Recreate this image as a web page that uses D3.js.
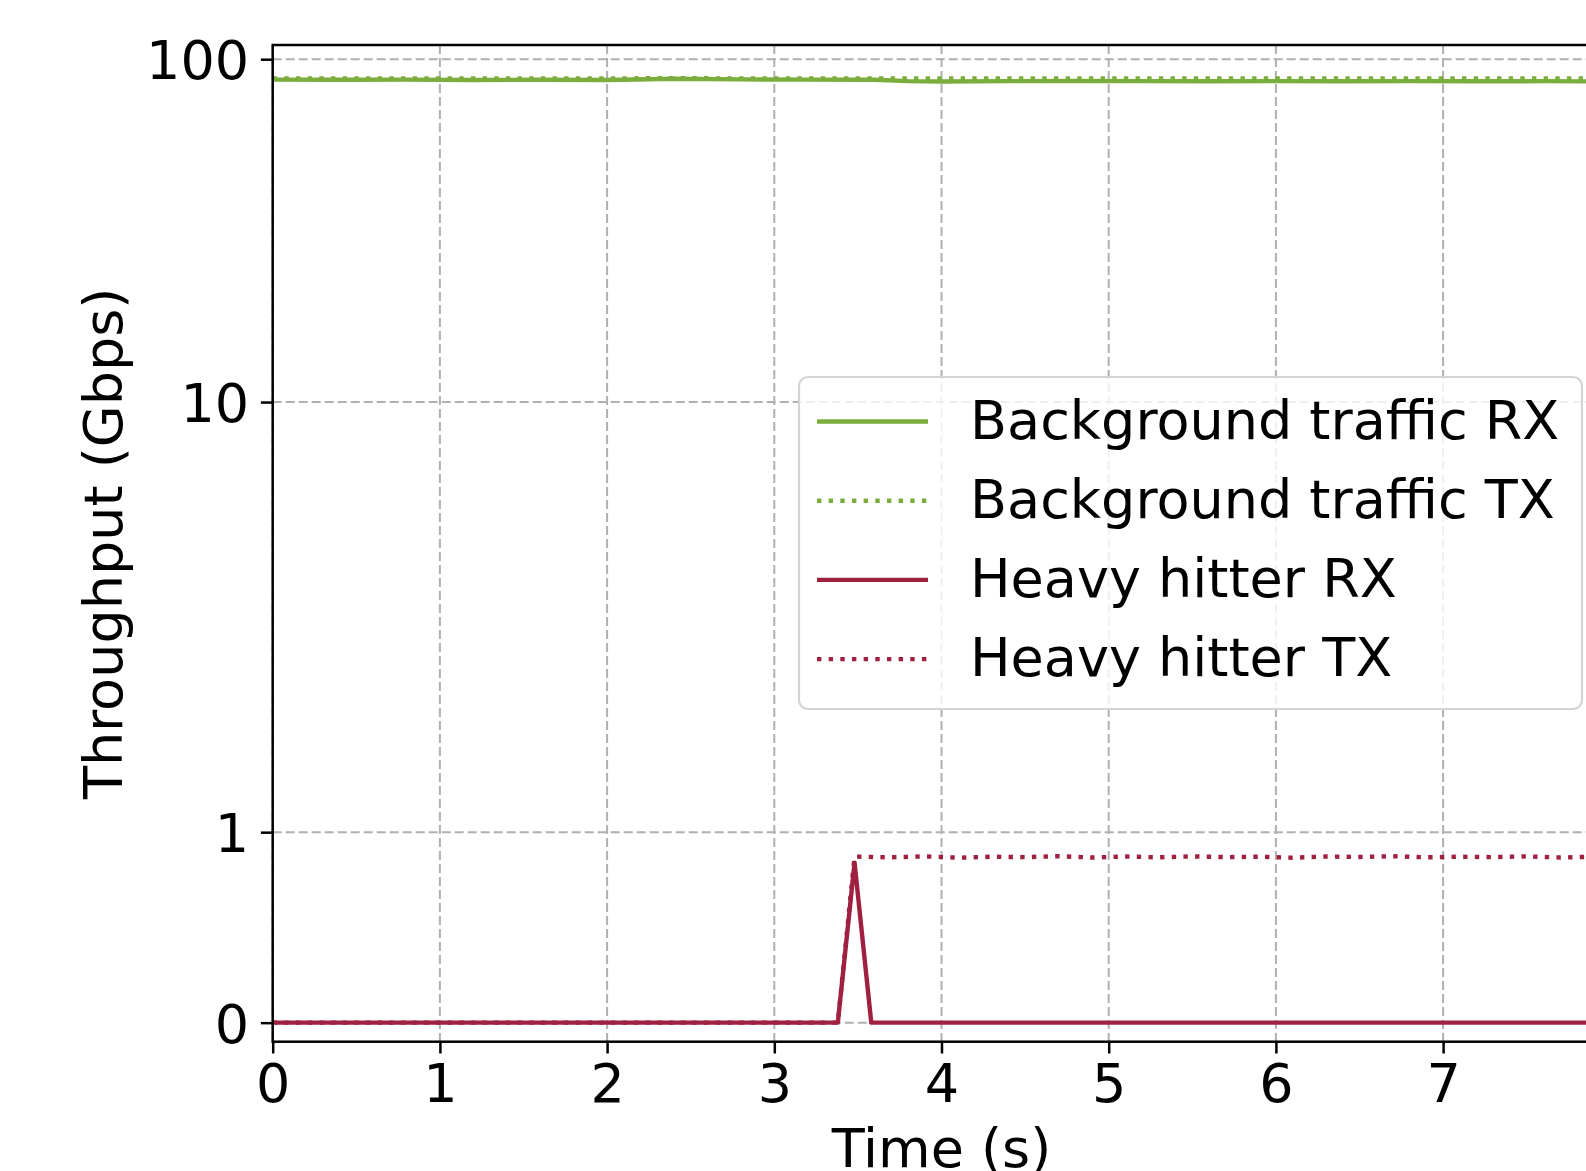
<!DOCTYPE html>
<html>
<head>
<meta charset="utf-8">
<script src="https://cdn.jsdelivr.net/npm/d3@7"></script>
<style>
    body { margin: 0; background: #fff; }
    svg { display: block; font-family: "DejaVu Sans", sans-serif; }
    .tick text { font-size: 54px; fill: #000; }
    .tick line { stroke: #000; stroke-width: 2.5; }
</style>
</head>
<body>
<div id="chart"></div>
<script>
// x ticks (8 sits on the cropped right edge) / y ticks
const xTicks = [0, 1, 2, 3, 4, 5, 6, 7, 8];
const xTickLabels = ["0", "1", "2", "3", "4", "5", "6", "7", ""];
const yTicks = [0, 1, 10, 100];

// background traffic (Gbps)
const bgTime = [0, 0.4, 0.8, 1.2, 1.6, 2.0, 2.4, 2.8, 3.2, 3.6, 3.8, 4.0, 4.4, 4.8, 5.2, 5.6, 6.0, 6.4, 6.8, 7.2, 7.6, 8.0];
const bgRx = [87.2, 87.1, 87.2, 87.0, 87.1, 87.0, 87.7, 87.3, 87.2, 87.1, 86.3, 86.1, 86.3, 86.4, 86.3, 86.2, 86.3, 86.2, 86.3, 86.2, 86.3, 86.1];
const bgTx = [87.8, 87.8, 87.9, 87.8, 87.8, 87.9, 88.0, 87.9, 87.8, 87.8, 87.8, 87.9, 87.8, 87.9, 87.8, 87.9, 87.8, 87.8, 87.9, 87.8, 87.9, 87.8];

// heavy hitter
const hhRxTime = [0, 3.38, 3.48, 3.58, 8.0];
const hhRx = [0, 0, 0.84, 0, 0];
const hhTxTime = [0, 3.38, 3.48, 3.7, 3.9, 4.1, 4.3, 4.5, 4.7, 4.9, 5.1, 5.3, 5.5, 5.7, 5.9, 6.1, 6.3, 6.5, 6.7, 6.9, 7.1, 7.3, 7.5, 7.7, 7.9, 8.0];
const hhTx = [0, 0, 0.872, 0.868, 0.873, 0.866, 0.871, 0.869, 0.874, 0.867, 0.872, 0.868, 0.873, 0.869, 0.871, 0.866, 0.872, 0.870, 0.874, 0.868, 0.871, 0.869, 0.873, 0.867, 0.871, 0.870];

const labels = ["Background traffic RX", "Background traffic TX", "Heavy hitter RX", "Heavy hitter TX"];

const green = "#7aad3c";
const red = "#a0213f";

const plot = {
    width: 1586,
    height: 1171,
    left: 272.7,
    right: 1610.3,
    top: 45,
    bottom: 1041.7,
    fontSize: 54,
    lineWidth: 4.4,
    // matplotlib style symlog, linthresh = 2, linscale = 1
    linthresh: 2,
    linscaleAdj: 1 / (1 - 1 / 10)
};

const symlog = (v) => {
    const a = Math.abs(v);
    const t = a <= plot.linthresh
        ? a * plot.linscaleAdj
        : plot.linthresh * (plot.linscaleAdj + Math.log10(a / plot.linthresh));
    return Math.sign(v) * t;
};

const x = d3.scaleLinear()
    .domain([0, 8])
    .range([plot.left, plot.right]);

const yT = d3.scaleLinear()
    .domain([symlog(-0.1), symlog(110)])
    .range([plot.bottom, plot.top]);

const y = (v) => yT(symlog(v));

const svg = d3.select("#chart")
    .append("svg")
    .attr("width", plot.width)
    .attr("height", plot.height);

svg.append("rect")
    .attr("width", plot.width)
    .attr("height", plot.height)
    .attr("fill", "#fff");

svg.append("clipPath")
    .attr("id", "clip")
    .append("rect")
    .attr("x", plot.left)
    .attr("y", plot.top)
    .attr("width", plot.right - plot.left)
    .attr("height", plot.bottom - plot.top);

// Grid.
const grid = svg.append("g")
    .attr("class", "grid")
    .attr("stroke", "#b0b0b0")
    .attr("stroke-width", 2)
    .attr("stroke-dasharray", "9,4");

grid.selectAll("line.gx")
    .data(xTicks)
    .enter()
    .append("line")
    .attr("class", "gx")
    .attr("x1", (d) => x(d))
    .attr("x2", (d) => x(d))
    .attr("y1", plot.top)
    .attr("y2", plot.bottom);

grid.selectAll("line.gy")
    .data(yTicks)
    .enter()
    .append("line")
    .attr("class", "gy")
    .attr("x1", plot.left)
    .attr("x2", plot.right)
    .attr("y1", (d) => y(d))
    .attr("y2", (d) => y(d));

// Lines.
const series = [
    { t: bgTime, v: bgRx, color: green, dash: null },
    { t: bgTime, v: bgTx, color: green, dash: "dot" },
    { t: hhRxTime, v: hhRx, color: red, dash: null },
    { t: hhTxTime, v: hhTx, color: red, dash: "dot" }
];

const dotDash = `${plot.lineWidth},${(plot.lineWidth * 1.65).toFixed(2)}`;

const line = d3.line()
    .x((d) => x(d[0]))
    .y((d) => y(d[1]));

svg.append("g")
    .attr("clip-path", "url(#clip)")
    .selectAll("path")
    .data(series)
    .enter()
    .append("path")
    .attr("d", (s) => line(s.t.map((t, i) => [t, s.v[i]])))
    .attr("fill", "none")
    .attr("stroke", (s) => s.color)
    .attr("stroke-width", plot.lineWidth)
    .attr("stroke-linejoin", "round")
    .attr("stroke-dasharray", (s) => s.dash ? dotDash : null);

// Spines.
svg.append("rect")
    .attr("x", plot.left)
    .attr("y", plot.top)
    .attr("width", plot.right - plot.left)
    .attr("height", plot.bottom - plot.top)
    .attr("fill", "none")
    .attr("stroke", "#000")
    .attr("stroke-width", 2.5);

// Axes.
const tickLen = 11.8;

svg.append("g")
    .attr("transform", `translate(0,${plot.bottom})`)
    .call(d3.axisBottom(x).tickValues(xTicks).tickFormat((d, i) => xTickLabels[i])
        .tickSize(tickLen).tickPadding(tickLen))
    .call((g) => g.select(".domain").remove())
    .call((g) => g.selectAll(".tick text").attr("dy", "0.68em"));

svg.append("g")
    .attr("transform", `translate(${plot.left},0)`)
    .call(d3.axisLeft(yT).tickValues(yTicks.map(symlog)).tickFormat((d, i) => yTicks[i])
        .tickSize(tickLen).tickPadding(tickLen))
    .call((g) => g.select(".domain").remove())
    .call((g) => g.selectAll(".tick text").attr("dy", "0.36em"));

svg.selectAll(".tick text").attr("font-family", "DejaVu Sans");

svg.append("text")
    .text("Time (s)")
    .attr("x", (plot.left + plot.right) / 2)
    .attr("y", 1167)
    .attr("text-anchor", "middle")
    .attr("font-size", plot.fontSize);

svg.append("text")
    .text("Throughput (Gbps)")
    .attr("transform", `translate(122,${(plot.top + plot.bottom) / 2}) rotate(-90)`)
    .attr("text-anchor", "middle")
    .attr("font-size", plot.fontSize);

// Legend.
const legend = {
    x: 799,
    y: 377,
    w: 783,
    h: 332,
    firstRow: 44.5,
    rowStep: 79.2
};

const lg = svg.append("g")
    .attr("class", "legend")
    .attr("transform", `translate(${legend.x},${legend.y})`);

lg.append("rect")
    .attr("width", legend.w)
    .attr("height", legend.h)
    .attr("rx", 9)
    .attr("fill", "#fff")
    .attr("fill-opacity", 0.8)
    .attr("stroke", "#d4d4d4")
    .attr("stroke-width", 2.2);

const rows = lg.selectAll("g.row")
    .data(series)
    .enter()
    .append("g")
    .attr("class", "row")
    .attr("transform", (d, i) => `translate(0,${legend.firstRow + i * legend.rowStep})`);

rows.append("line")
    .attr("x1", 18)
    .attr("x2", 129)
    .attr("stroke", (s) => s.color)
    .attr("stroke-width", plot.lineWidth)
    .attr("stroke-dasharray", (s) => s.dash ? dotDash : null);

rows.append("text")
    .text((d, i) => labels[i])
    .attr("x", 171)
    .attr("y", 17)
    .attr("font-size", plot.fontSize);
</script>
</body>
</html>
